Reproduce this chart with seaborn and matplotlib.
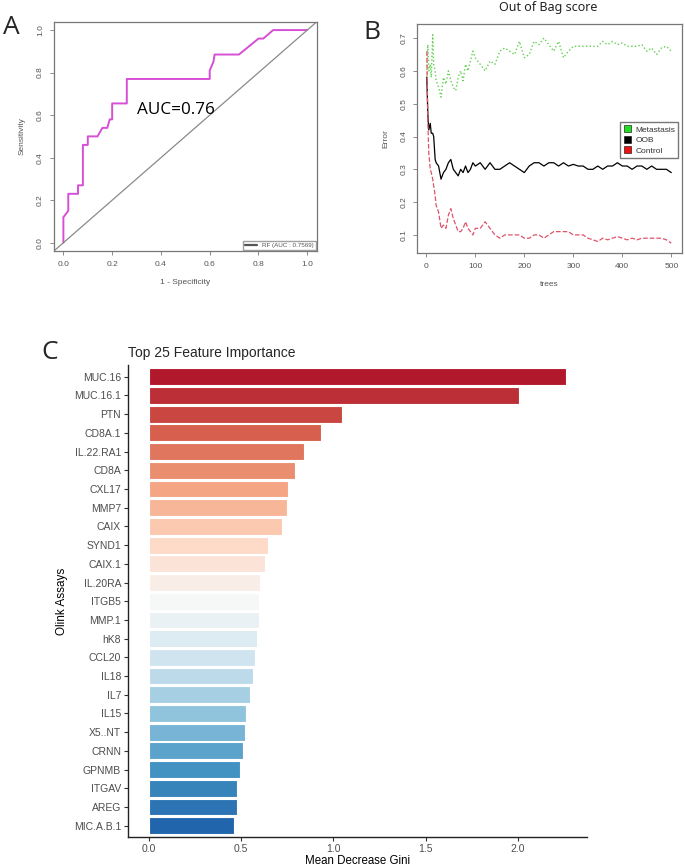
import matplotlib
matplotlib.use("Agg")
import matplotlib.pyplot as plt
from matplotlib.colors import LinearSegmentedColormap
from matplotlib.patches import Patch
from matplotlib.lines import Line2D
import seaborn as sns
import pandas as pd

# panel A: ROC curve (1 - specificity, sensitivity)
roc_fpr = [0, 0, 0.02, 0.02, 0.06, 0.06, 0.08, 0.08, 0.10, 0.10, 0.14, 0.16, 0.18, 0.19,
           0.20, 0.20, 0.26, 0.26, 0.60, 0.60, 0.615, 0.62, 0.72, 0.80, 0.82, 0.86, 1.0]
roc_tpr = [0, 0.12, 0.15, 0.23, 0.23, 0.27, 0.27, 0.46, 0.46, 0.50, 0.50, 0.54, 0.54, 0.58,
           0.58, 0.655, 0.655, 0.77, 0.77, 0.81, 0.85, 0.885, 0.885, 0.96, 0.96, 1.0, 1.0]

# panel B: out of bag error per number of trees
trees = [1, 3, 5, 8, 10, 13, 15, 18, 20, 25, 30, 35, 40, 45, 50, 55, 60, 65, 70, 75, 80, 85,
         90, 95, 100, 110, 120, 130, 140, 150, 160, 170, 180, 190, 200, 210, 220, 230, 240,
         250, 260, 270, 280, 290, 300, 310, 320, 330, 340, 350, 360, 370, 380, 390, 400, 410,
         420, 430, 440, 450, 460, 470, 480, 490, 500]
oob_err = [0.58, 0.47, 0.42, 0.44, 0.41, 0.41, 0.40, 0.33, 0.32, 0.31, 0.27, 0.29, 0.30, 0.32,
           0.33, 0.30, 0.29, 0.28, 0.30, 0.29, 0.31, 0.29, 0.30, 0.32, 0.31, 0.32, 0.30, 0.32,
           0.30, 0.30, 0.31, 0.32, 0.31, 0.30, 0.29, 0.31, 0.32, 0.32, 0.31, 0.32, 0.32, 0.31,
           0.32, 0.31, 0.315, 0.31, 0.31, 0.30, 0.30, 0.31, 0.30, 0.31, 0.31, 0.32, 0.31, 0.31,
           0.30, 0.31, 0.31, 0.30, 0.31, 0.30, 0.30, 0.30, 0.29]
control_err = [0.66, 0.45, 0.35, 0.30, 0.29, 0.27, 0.25, 0.22, 0.19, 0.17, 0.12, 0.13, 0.12,
               0.16, 0.18, 0.15, 0.13, 0.11, 0.11, 0.12, 0.14, 0.12, 0.11, 0.10, 0.12, 0.12,
               0.14, 0.12, 0.10, 0.09, 0.10, 0.10, 0.10, 0.10, 0.09, 0.09, 0.10, 0.10, 0.09,
               0.10, 0.11, 0.11, 0.11, 0.11, 0.10, 0.10, 0.10, 0.09, 0.085, 0.08, 0.09, 0.085,
               0.09, 0.095, 0.09, 0.085, 0.09, 0.085, 0.09, 0.09, 0.09, 0.09, 0.09, 0.085, 0.075]
metastasis_err = [0.58, 0.68, 0.60, 0.62, 0.58, 0.71, 0.62, 0.60, 0.57, 0.55, 0.52, 0.58, 0.56,
                  0.60, 0.57, 0.55, 0.54, 0.58, 0.60, 0.57, 0.62, 0.60, 0.63, 0.66, 0.64, 0.62,
                  0.60, 0.63, 0.62, 0.66, 0.67, 0.66, 0.65, 0.69, 0.64, 0.65, 0.69, 0.68, 0.70,
                  0.68, 0.66, 0.69, 0.64, 0.66, 0.675, 0.675, 0.675, 0.675, 0.675, 0.675, 0.69,
                  0.68, 0.69, 0.68, 0.685, 0.675, 0.675, 0.675, 0.68, 0.66, 0.67, 0.65, 0.67,
                  0.675, 0.66]

# panel C: feature importance
assays = ["MUC.16", "MUC.16.1", "PTN", "CD8A.1", "IL.22.RA1", "CD8A", "CXL17", "MMP7", "CAIX",
          "SYND1", "CAIX.1", "IL.20RA", "ITGB5", "MMP.1", "hK8", "CCL20", "IL18", "IL7", "IL15",
          "X5..NT", "CRNN", "GPNMB", "ITGAV", "AREG", "MIC.A.B.1"]
gini = [2.26, 2.005, 1.047, 0.931, 0.84, 0.793, 0.752, 0.747, 0.72, 0.644, 0.629, 0.602, 0.597,
        0.597, 0.586, 0.573, 0.562, 0.549, 0.526, 0.521, 0.51, 0.493, 0.479, 0.479, 0.459]

sns.set_style("white")
plt.rcParams["font.family"] = ["Liberation Sans", "DejaVu Sans"]

fig = plt.figure(figsize=(6.85, 8.66), dpi=100)

r_grey = "#555555"

# ---- A: ROC
axA = fig.add_axes([0.0783, 0.7099, 0.3845, 0.2652])
sns.lineplot(x=roc_fpr, y=roc_tpr, sort=False, estimator=None, color="#D64FD6", lw=1.4, ax=axA)
axA.axline((0, 0), (1, 1), color="#8A8A8A", lw=0.9)
axA.set_xlim(-0.04, 1.04)
axA.set_ylim(-0.04, 1.04)
axA.set_xticks([0, 0.2, 0.4, 0.6, 0.8, 1.0])
axA.set_yticks([0, 0.2, 0.4, 0.6, 0.8, 1.0])
axA.set_xticklabels(["0.0", "0.2", "0.4", "0.6", "0.8", "1.0"])
axA.set_yticklabels(["0.0", "0.2", "0.4", "0.6", "0.8", "1.0"], rotation=90, va="center")
axA.set_xlabel("1 - Specificity", fontsize=6, color=r_grey, labelpad=8)
axA.set_ylabel("Sensitivity", fontsize=6, color=r_grey, labelpad=8)
axA.text(0.3, 0.605, "AUC=0.76", fontsize=12.3, family=["Open Sans", "DejaVu Sans"], color="black")
axA.legend(handles=[Line2D([0], [0], color="#555555", lw=1.6)], labels=["RF (AUC : 0.7569)"],
           loc="lower right", fontsize=4.5, frameon=True, fancybox=False, edgecolor="#888888",
           borderaxespad=0.15, handlelength=2.0, borderpad=0.3, labelcolor=r_grey)

# ---- B: OOB error
axB = fig.add_axes([0.6088, 0.7079, 0.3869, 0.2644])
sns.lineplot(x=trees, y=metastasis_err, color="#61D04F", lw=1.0, ls=":", ax=axB)
sns.lineplot(x=trees, y=oob_err, color="black", lw=0.9, ax=axB)
sns.lineplot(x=trees, y=control_err, color="#DF536B", lw=0.9, ls="--", dashes=(2, 1.5), ax=axB)
axB.set_xlim(-19, 522)
axB.set_ylim(0.045, 0.743)
axB.set_xticks([0, 100, 200, 300, 400, 500])
axB.set_yticks([0.1, 0.2, 0.3, 0.4, 0.5, 0.6, 0.7])
axB.set_yticklabels(["0.1", "0.2", "0.3", "0.4", "0.5", "0.6", "0.7"], rotation=90, va="center")
axB.set_xlabel("trees", fontsize=6, color=r_grey, labelpad=8)
axB.set_ylabel("Error", fontsize=6, color=r_grey, labelpad=8)
axB.legend(handles=[Patch(facecolor="#22DD22", edgecolor="black", lw=0.4),
                    Patch(facecolor="black", edgecolor="black", lw=0.4),
                    Patch(facecolor="#EE1111", edgecolor="black", lw=0.4)],
           labels=["Metastasis", "OOB", "Control"], loc="upper left",
           bbox_to_anchor=(0.751, 0.59), fontsize=6, frameon=True, fancybox=False,
           edgecolor="#555555", handlelength=0.9, handleheight=0.9, handletextpad=0.5,
           borderpad=0.4, labelspacing=0.25, labelcolor="#333333")
fig.text(0.80, 0.9915, "Out of Bag score", ha="center", va="center", fontsize=9,
         fontweight="bold", family=["Noto Sans", "DejaVu Sans"], color="#222222")

for ax in (axA, axB):
    for s in ax.spines.values():
        s.set_visible(True)
        s.set_color("#777777")
        s.set_linewidth(0.9)
    ax.tick_params(axis="both", which="both", bottom=True, left=True, length=3, width=0.6,
                   color="#777777", labelsize=6, labelcolor=r_grey, pad=4)

# ---- C: feature importance
cmap = LinearSegmentedColormap.from_list(
    "rdbu9", ["#B2182B", "#D6604D", "#F4A582", "#FDDBC7", "#F7F7F7",
              "#D1E5F0", "#92C5DE", "#4393C3", "#2166AC"])
bar_colors = [cmap(i / (len(assays) - 1)) for i in range(len(assays))]
axC = fig.add_axes([0.1869, 0.0335, 0.6695, 0.5445])
df = pd.DataFrame({"assay": assays, "gini": gini})
sns.barplot(data=df, x="gini", y="assay", hue="assay", palette=bar_colors, legend=False,
            width=0.9, edgecolor="white", linewidth=0.8, saturation=1, ax=axC)
axC.set_xlim(-0.113, 2.373)
axC.set_ylim(len(assays) - 0.4, -0.6)
axC.set_xticks([0, 0.5, 1.0, 1.5, 2.0])
axC.set_xticklabels(["0.0", "0.5", "1.0", "1.5", "2.0"])
sns.despine(ax=axC)
for s in ("left", "bottom"):
    axC.spines[s].set_color("#222222")
    axC.spines[s].set_linewidth(1.0)
axC.tick_params(axis="both", bottom=True, left=True, length=3, width=0.8, color="#333333",
                labelsize=7.5, labelcolor="#4D4D4D", pad=2)
axC.set_xlabel("Mean Decrease Gini", fontsize=8.3, color="black", labelpad=0.5)
axC.set_ylabel("Olink Assays", fontsize=8.5, color="black", labelpad=4)
axC.set_title("Top 25 Feature Importance", fontsize=10, loc="left", x=0.0, pad=6)

# panel letters
for lab, x, y in (("A", 0.005, 0.968), ("B", 0.53, 0.963), ("C", 0.06, 0.593)):
    fig.text(x, y, lab, fontsize=19, family=["Open Sans", "DejaVu Sans"], va="center")

fig.savefig("out.png", dpi=100)
